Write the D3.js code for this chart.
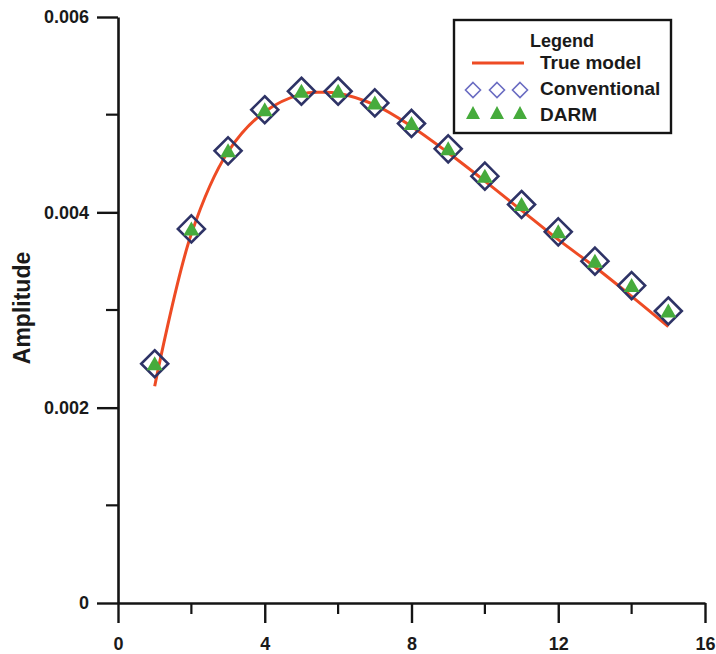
<!DOCTYPE html>
<html>
<head>
<meta charset="utf-8">
<script src="https://cdn.jsdelivr.net/npm/d3@7"></script>
<style>
  html, body { margin: 0; padding: 0; background: #ffffff; }
  svg { display: block; }
  text { font-family: "Liberation Sans", Arial, sans-serif; font-weight: bold; fill: #1a1a1a; }
</style>
</head>
<body>
<svg id="chart" width="716" height="654"></svg>
<script>
// Receiver index (x) and recovered amplitudes
const traceIdx = [1, 2, 3, 4, 5, 6, 7, 8, 9, 10, 11, 12, 13, 14, 15];
const conventional = [0.00245, 0.00383, 0.00463, 0.00505, 0.00524, 0.00524, 0.00512, 0.00491, 0.00465, 0.00437, 0.00408, 0.00380, 0.00350, 0.00325, 0.00299];
const darm = [0.00245, 0.00383, 0.00463, 0.00505, 0.00524, 0.00524, 0.00512, 0.00491, 0.00465, 0.00437, 0.00408, 0.00380, 0.00350, 0.00325, 0.00299];

// True model curve
const trueX = [1, 2, 3, 4, 5, 5.5, 6, 7, 8, 9, 10, 11, 12, 13, 14, 15];
const trueY = [0.00222, 0.00378, 0.00462, 0.00503, 0.00521, 0.00523, 0.00522, 0.00510, 0.00488, 0.00461, 0.00432, 0.00402, 0.00372, 0.00344, 0.00314, 0.00283];

const xTicks = [0, 4, 8, 12, 16];
const xMinor = [2, 6, 10, 14];
const yTicks = [0, 0.002, 0.004, 0.006];
const yTickLabels = ["0", "0.002", "0.004", "0.006"];
const yMinor = [0.001, 0.003, 0.005];

const legendItems = ["True model", "Conventional", "DARM"];

const svg = d3.select("#chart");
const x = d3.scaleLinear().domain([0, 16]).range([118, 705]);
const y = d3.scaleLinear().domain([0, 0.006]).range([603, 17]);

const axisColor = "#141414";

// minor ticks
svg.append("g").selectAll("line").data(xMinor).join("line")
  .attr("x1", d => x(d)).attr("x2", d => x(d))
  .attr("y1", y(0)).attr("y2", y(0) + 11)
  .attr("stroke", axisColor).attr("stroke-width", 2.2);
svg.append("g").selectAll("line").data(yMinor).join("line")
  .attr("y1", d => y(d)).attr("y2", d => y(d))
  .attr("x1", x(0)).attr("x2", x(0) - 12)
  .attr("stroke", axisColor).attr("stroke-width", 2.2);

// x axis
const xAxis = svg.append("g")
  .attr("transform", `translate(0,${y(0)})`)
  .call(d3.axisBottom(x).tickValues(xTicks).tickFormat(d3.format("d")).tickSize(20).tickSizeOuter(0).tickPadding(14));
// y axis
const yAxis = svg.append("g")
  .attr("transform", `translate(${x(0)},0)`)
  .call(d3.axisLeft(y).tickValues(yTicks).tickFormat((d, i) => yTickLabels[i]).tickSize(21).tickSizeOuter(0).tickPadding(8));

[xAxis, yAxis].forEach(g => {
  g.select(".domain").attr("stroke", axisColor).attr("stroke-width", 2.6);
  g.selectAll(".tick line").attr("stroke", axisColor).attr("stroke-width", 2.4);
  g.selectAll(".tick text").attr("font-size", 18).attr("font-family", "Liberation Sans, Arial, sans-serif")
    .attr("font-weight", "bold").attr("fill", "#1a1a1a");
});

// y axis title
svg.append("text")
  .attr("transform", `translate(30,308) rotate(-90)`)
  .attr("text-anchor", "middle")
  .attr("font-size", 23)
  .text("Amplitude");

// True model line
const line = d3.line().x(d => x(d[0])).y(d => y(d[1])).curve(d3.curveCatmullRom.alpha(0.5));
svg.append("path")
  .datum(trueX.map((v, i) => [v, trueY[i]]))
  .attr("d", line)
  .attr("fill", "none")
  .attr("stroke", "#ee4b24")
  .attr("stroke-width", 3);

// Conventional: open diamonds
const diamond = r => `M0,${-r}L${r},0L0,${r}L${-r},0Z`;
svg.append("g").selectAll("path").data(traceIdx.map((v, i) => [v, conventional[i]])).join("path")
  .attr("transform", d => `translate(${x(d[0])},${y(d[1])})`)
  .attr("d", diamond(13.5))
  .attr("fill", "none")
  .attr("stroke", "#2e3366")
  .attr("stroke-width", 2.6);

// DARM: filled triangles
const tri = (w, h) => `M0,${-h / 2 - 1}L${w / 2},${h / 2}L${-w / 2},${h / 2}Z`;
svg.append("g").selectAll("path").data(traceIdx.map((v, i) => [v, darm[i]])).join("path")
  .attr("transform", d => `translate(${x(d[0])},${y(d[1])})`)
  .attr("d", tri(16, 13))
  .attr("fill", "#46ab3c");

// Legend
const lg = svg.append("g");
lg.append("rect")
  .attr("x", 454).attr("y", 20).attr("width", 217).attr("height", 113)
  .attr("fill", "#ffffff").attr("stroke", "#141414").attr("stroke-width", 2.4);
lg.append("text").attr("x", 562).attr("y", 47).attr("text-anchor", "middle")
  .attr("font-size", 18).text("Legend");
const rowY = [69, 95, 121];
legendItems.forEach((t, i) => {
  lg.append("text").attr("x", 540).attr("y", rowY[i]).attr("font-size", 19).text(t);
});
lg.append("line").attr("x1", 472).attr("x2", 524).attr("y1", 63).attr("y2", 63)
  .attr("stroke", "#ee4b24").attr("stroke-width", 3);
[473, 497, 520].forEach(cx => {
  lg.append("path").attr("transform", `translate(${cx},90)`).attr("d", diamond(7.5))
    .attr("fill", "none").attr("stroke", "#6a6cc2").attr("stroke-width", 1.6);
  lg.append("path").attr("transform", `translate(${cx},113)`).attr("d", tri(14, 12))
    .attr("fill", "#46ab3c");
});
</script>
</body>
</html>
